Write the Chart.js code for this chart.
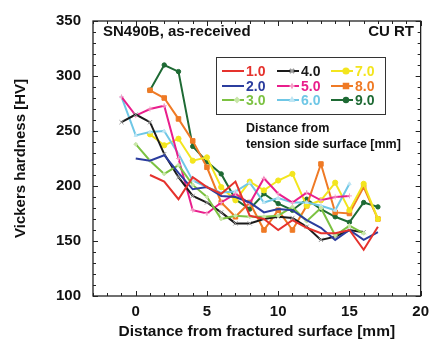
<!DOCTYPE html>
<html>
<head>
<meta charset="utf-8">
<script src="https://cdn.jsdelivr.net/npm/chart.js@4"></script>
<style>
  html, body { margin: 0; padding: 0; background: #fff; }
  #wrap { width: 436px; height: 345px; }
</style>
</head>
<body>
<div id="wrap"><canvas id="c"></canvas></div>
<script>
// Vickers hardness [HV] vs distance from fractured surface [mm]
// one series per distance from tension side surface
const seriesNames = ["1.0", "2.0", "3.0", "4.0", "5.0", "6.0", "7.0", "8.0", "9.0"];
const seriesStartX = [1, 0, 0, -1, -1, -1, 1, 1, 1];

const hv_1_0 = [210, 204, 188, 208, 199, 193, 204, 173, 170, 160, 169, 162, 157, 157, 160, 142, 163];
const hv_2_0 = [225, 223, 228, 212, 197, 199, 191, 190, 185, 176, 179, 178, 169, 162, 151, 160, 151, 158];
const hv_3_0 = [238, 223, 211, 219, 201, 190, 170, 173, 172, 172, 173, 181, 168, 180, 155, 164, 157];
const hv_4_0 = [258, 265, 258, 229, 208, 191, 185, 176, 166, 166, 170, 172, 171, 163, 151, 154, 160, 158];
const hv_5_0 = [281, 264, 270, 273, 225, 178, 175, 185, 193, 184, 207, 193, 185, 194, 187, 190, 191];
const hv_6_0 = [281, 246, 249, 250, 229, 205, 199, 194, 195, 203, 185, 189, 185, 185, 182, 178, 202];
const hv_7_0 = [247, 237, 243, 223, 226, 199, 187, 204, 196, 205, 211, 182, 187, 203, 178, 202, 170];
const hv_8_0 = [287, 280, 261, 241, 217, 185, 172, 185, 160, 178, 160, 182, 220, 176, 175, 199, 170];
const hv_9_0 = [287, 310, 304, 236, 222, 211, 188, 179, 193, 184, 178, 188, 179, 172, 167, 185, 181];

const seriesValues = [hv_1_0, hv_2_0, hv_3_0, hv_4_0, hv_5_0, hv_6_0, hv_7_0, hv_8_0, hv_9_0];

const colors = ["#e5322d", "#2b3d9e", "#7cc242", "#1b1b1b", "#e91e8c", "#6fc7e6", "#f3e51e", "#ef7a25", "#1e6a34"];
const pointStyles = ["circle", "circle", "rectRot", "crossRot", "cross", "triangle", "circle", "rect", "circle"];
const pointSizes = [0, 0, 2, 3, 2.5, 2, 2.6, 3.2, 2.2];
const pointFills = ["#e5322d", "#2b3d9e", "#c8e6a8", "#9a9a9a", "#f5a0c8", "#bfe6f4", "#f3e51e", "#ef7a25", "#1e6a34"];

const FONT = "'Liberation Sans', Arial, sans-serif";

const datasets = seriesNames.map((name, i) => ({
  label: name,
  data: seriesValues[i].map((v, k) => ({ x: seriesStartX[i] + k, y: v })),
  borderColor: colors[i],
  backgroundColor: pointFills[i],
  pointBorderColor: pointFills[i],
  pointBackgroundColor: pointFills[i],
  pointStyle: pointStyles[i],
  pointRadius: pointSizes[i],
  pointBorderWidth: 1,
  borderWidth: 2,
  tension: 0
}));

// frame, inward ticks, annotations and the 3x3 legend box
const decor = {
  id: 'decor',
  afterDraw(chart) {
    const ctx = chart.ctx;
    const a = chart.chartArea;
    const xs = chart.scales.x, ys = chart.scales.y;
    ctx.save();
    ctx.strokeStyle = '#222';
    ctx.lineWidth = 1.3;
    ctx.strokeRect(a.left, a.top, a.right - a.left, a.bottom - a.top);

    ctx.lineWidth = 1;
    for (let v = -3; v <= 20; v++) {
      const px = Math.round(xs.getPixelForValue(v)) + 0.5;
      const len = (v % 5 === 0) ? 5 : 3;
      ctx.beginPath();
      ctx.moveTo(px, a.bottom); ctx.lineTo(px, a.bottom - len);
      ctx.moveTo(px, a.top); ctx.lineTo(px, a.top + len);
      ctx.stroke();
    }
    for (let v = 100; v <= 350; v += 10) {
      const py = Math.round(ys.getPixelForValue(v)) + 0.5;
      const len = (v % 50 === 0) ? 5 : 3;
      ctx.beginPath();
      ctx.moveTo(a.left, py); ctx.lineTo(a.left + len, py);
      ctx.moveTo(a.right, py); ctx.lineTo(a.right - len, py);
      ctx.stroke();
    }

    ctx.fillStyle = '#111';
    ctx.textBaseline = 'middle';
    ctx.font = 'bold 15px ' + FONT;
    ctx.textAlign = 'left';
    ctx.fillText('SN490B, as-received', 103, 32);
    ctx.textAlign = 'right';
    ctx.fillText('CU RT', 414, 32);
    ctx.font = 'bold 12.5px ' + FONT;
    ctx.textAlign = 'left';
    ctx.fillText('Distance from', 246, 129);
    ctx.fillText('tension side surface [mm]', 246, 145);

    // legend box
    const bx = 216, by = 57, bw = 169, bh = 57;
    ctx.fillStyle = '#fff';
    ctx.fillRect(bx, by, bw, bh);
    ctx.strokeStyle = '#333';
    ctx.lineWidth = 1;
    ctx.strokeRect(bx + 0.5, by + 0.5, bw, bh);
    const colX = [222, 277, 331];
    const rowY = [71, 86, 100];
    ctx.font = 'bold 14px ' + FONT;
    chart.data.datasets.forEach((ds, i) => {
      const c = Math.floor(i / 3), r = i % 3;
      const x0 = colX[c], y0 = rowY[r];
      ctx.strokeStyle = ds.borderColor;
      ctx.lineWidth = 2;
      ctx.beginPath();
      ctx.moveTo(x0, y0); ctx.lineTo(x0 + 22, y0);
      ctx.stroke();
      if (ds.pointRadius > 0) {
        ctx.fillStyle = ds.pointBackgroundColor;
        ctx.strokeStyle = ds.pointBorderColor;
        Chart.helpers.drawPoint(ctx, {
          pointStyle: ds.pointStyle, radius: ds.pointRadius, borderWidth: 1
        }, x0 + 15, y0);
      }
      ctx.fillStyle = ds.borderColor;
      ctx.textAlign = 'left';
      ctx.fillText(ds.label, x0 + 24, y0 + 1);
    });
    ctx.restore();
  }
};

new Chart(document.getElementById('c'), {
  type: 'line',
  data: { datasets: datasets },
  options: {
    responsive: true,
    maintainAspectRatio: false,
    animation: false,
    layout: { padding: { top: 20, right: 11, left: 0, bottom: 0 } },
    plugins: { legend: { display: false }, tooltip: { enabled: false } },
    scales: {
      x: {
        type: 'linear',
        min: -3, max: 20,
        afterBuildTicks: s => { s.ticks = [0, 5, 10, 15, 20].map(v => ({ value: v })); },
        afterFit: s => { s.height = 49; },
        grid: { display: false, drawTicks: false },
        border: { display: false },
        ticks: { color: '#111', padding: 7, font: { family: FONT, size: 15, weight: 'bold' } },
        title: {
          display: true, text: 'Distance from fractured surface [mm]', color: '#111',
          padding: { top: 5 }, font: { family: FONT, size: 15.5, weight: 'bold' }
        }
      },
      y: {
        type: 'linear',
        min: 100, max: 350,
        afterBuildTicks: s => { s.ticks = [100, 150, 200, 250, 300, 350].map(v => ({ value: v })); },
        afterFit: s => { s.width = 93; },
        grid: { display: false, drawTicks: false },
        border: { display: false },
        ticks: { color: '#111', padding: 12, font: { family: FONT, size: 15, weight: 'bold' } },
        title: {
          display: true, text: 'Vickers hardness [HV]', color: '#111',
          padding: { top: 12, bottom: 6 }, font: { family: FONT, size: 15, weight: 'bold' }
        }
      }
    }
  },
  plugins: [decor]
});
</script>
</body>
</html>
